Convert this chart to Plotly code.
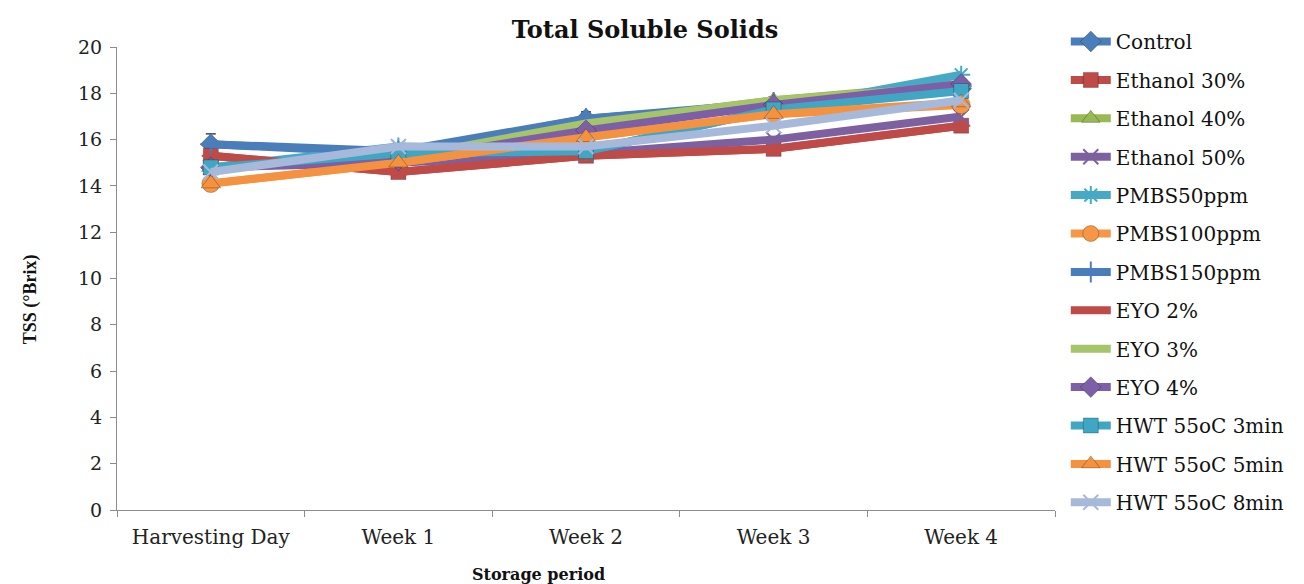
import plotly.graph_objects as go

categories = ["Harvesting Day", "Week 1", "Week 2", "Week 3", "Week 4"]

series_names = ["Control", "Ethanol 30%", "Ethanol 40%", "Ethanol 50%", "PMBS50ppm",
                "PMBS100ppm", "PMBS150ppm", "EYO 2%", "EYO 3%", "EYO 4%",
                "HWT 55oC 3min", "HWT 55oC 5min", "HWT 55oC 8min"]

control = [15.8, 15.4, 16.9, 17.5, 18.2]
ethanol30 = [15.3, 14.6, 15.3, 15.6, 16.6]
ethanol40 = [14.8, 15.1, 16.7, 17.7, 18.4]
ethanol50 = [14.8, 15.0, 15.4, 16.0, 17.0]
pmbs50 = [14.8, 15.7, 15.5, 17.3, 18.8]
pmbs100 = [14.1, 15.0, 16.1, 17.1, 17.5]
pmbs150 = [15.8, 15.5, 16.9, 17.6, 18.3]
eyo2 = [15.3, 14.6, 15.3, 15.6, 16.6]
eyo3 = [14.8, 15.2, 16.7, 17.7, 18.3]
eyo4 = [14.8, 15.1, 16.4, 17.5, 18.4]
hwt3 = [14.8, 15.4, 15.5, 17.3, 18.1]
hwt5 = [14.1, 15.0, 16.1, 17.1, 17.6]
hwt8 = [14.6, 15.7, 15.7, 16.6, 17.7]

control_err = [0.45, 0.3, 0.3, 0.35, 0.3]

series_values = [control, ethanol30, ethanol40, ethanol50, pmbs50, pmbs100, pmbs150,
                 eyo2, eyo3, eyo4, hwt3, hwt5, hwt8]

colors = ["#4A7EBB", "#BE4B48", "#98B954", "#7D60A0", "#46AAC5", "#F79646", "#4A7EBB",
          "#BE4B48", "#A6C46A", "#7D5FA8", "#3FA7C4", "#F4923F", "#A7B9DA"]
symbols = ["diamond", "square", "triangle-up", "x-thin-open", "asterisk-open", "circle",
           "cross-thin-open", "line-ew-open", "line-ew-open", "diamond", "square",
           "triangle-up", "x-thin-open"]
sizes = [16, 15, 16, 15, 15, 18, 15, 13, 13, 16, 15, 17, 15]

serif = "Liberation Serif, Times New Roman, serif"
wide_serif = "DejaVu Serif, serif"

fig = go.Figure()
for i, (name, vals) in enumerate(zip(series_names, series_values)):
    open_sym = symbols[i].endswith("open")
    tr = go.Scatter(
        x=categories, y=vals, name=name, mode="lines+markers",
        legendgroup=name,
        line=dict(color=colors[i], width=8),
        marker=dict(symbol=symbols[i], size=sizes[i], color=colors[i],
                    line=dict(color=colors[i] if open_sym else "rgba(0,0,0,0.25)",
                              width=2 if open_sym else 1)),
    )
    if name == "Control":
        tr.error_y = dict(type="data", array=control_err, visible=True,
                          color="#222222", thickness=1.2, width=5)
    fig.add_trace(tr)

fig.update_layout(
    width=1296, height=576,
    plot_bgcolor="white", paper_bgcolor="white",
    margin=dict(l=109, r=249, t=39, b=74),
    font=dict(family=wide_serif, size=17, color="#222222"),
    title=dict(text="<b>Total Soluble Solids</b>", x=0.4915, xanchor="center",
               xref="container", y=0.962, yanchor="middle", yref="container",
               font=dict(family=wide_serif, size=24, color="#111111")),
    showlegend=True,
    legend=dict(x=1.0115, y=1.054, xanchor="left", yanchor="top",
                font=dict(family=wide_serif, size=20, color="#111111"),
                tracegroupgap=9.4, itemwidth=40, maxheight=700,
                bgcolor="rgba(0,0,0,0)"),
    annotations=[
        dict(text="<b>Storage period</b>", xref="paper", yref="paper",
             x=0.449, y=-0.140, xanchor="center", yanchor="middle",
             showarrow=False, font=dict(family=wide_serif, size=16, color="#111111")),
        dict(text="<b>TSS (°Brix)</b>", xref="paper", yref="paper",
             x=-0.0928, y=0.455, xanchor="center", yanchor="middle", textangle=-90,
             showarrow=False, font=dict(family=serif, size=18, color="#111111")),
    ],
)
fig.update_xaxes(
    type="category", range=[-0.5, 4.5], showline=True, linecolor="#8C8C8C",
    linewidth=1, ticks="outside", tickson="boundaries", ticklen=6,
    tickcolor="#8C8C8C", showgrid=False, zeroline=False,
    ticklabelstandoff=9,
    tickfont=dict(family=wide_serif, size=20, color="#222222"),
)
fig.update_yaxes(
    range=[0, 20], dtick=2, showline=True, linecolor="#8C8C8C", linewidth=1,
    ticks="outside", ticklen=6, tickcolor="#8C8C8C", showgrid=False,
    zeroline=False, ticklabelstandoff=4,
    tickfont=dict(family=wide_serif, size=19, color="#222222"),
)

fig.write_html("out.html")
